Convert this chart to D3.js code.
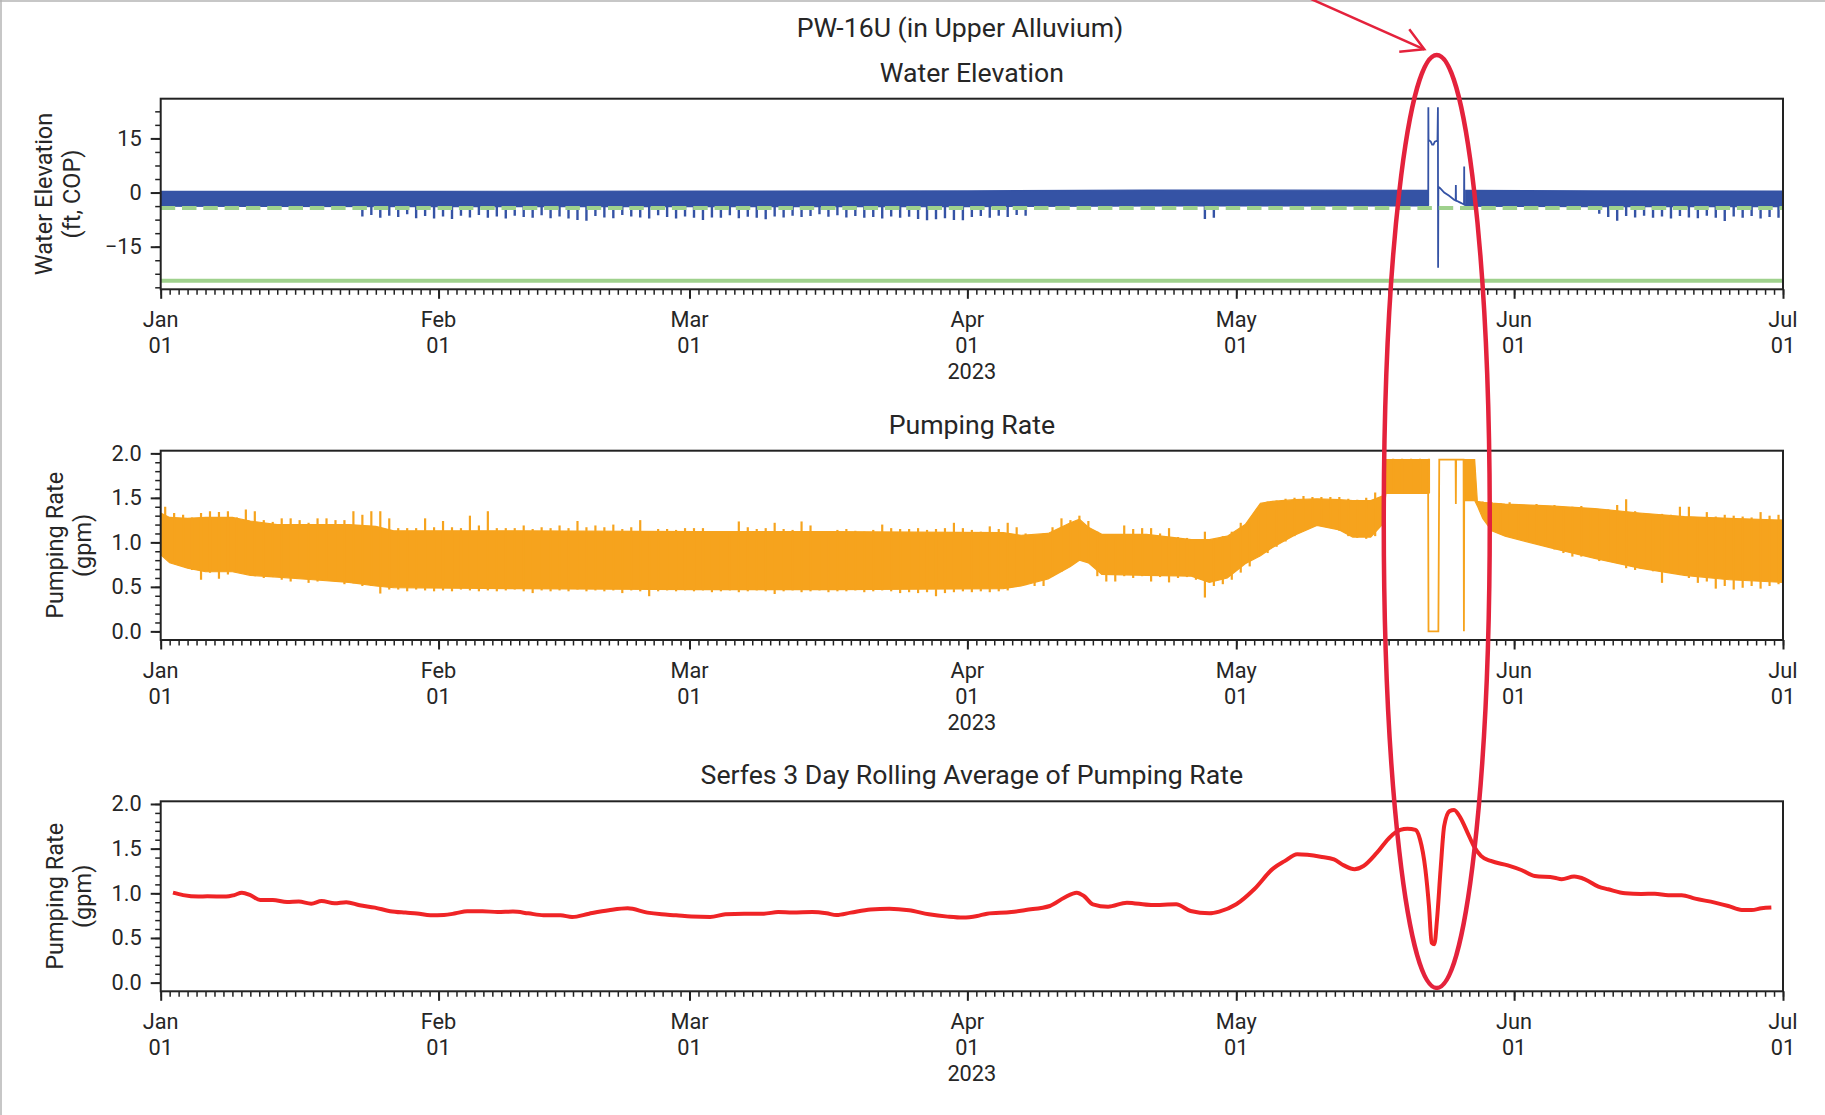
<!DOCTYPE html>
<html><head><meta charset="utf-8">
<script src="https://cdn.jsdelivr.net/npm/d3@7"></script>
<style>
body{margin:0;background:#fff;}
svg{display:block;font-family:Roboto,"Open Sans",sans-serif;}
</style></head><body>
<svg id="chart" width="1825" height="1115"></svg>
<script>
// ---------------- DATA (days counted from 2023-01-01) ----------------
const monthTicks = ["Jan","Feb","Mar","Apr","May","Jun","Jul"];
const elevTicks = [-15, 0, 15];
const rateTicks = [0.0, 0.5, 1.0, 1.5, 2.0];

// Water elevation: dense band core (key days) + daily downward spikes
const elevCoreDays = [0, 30, 60, 90, 110, 141.42, 141.43, 145.55, 145.6, 160, 181];
const elevCoreHi   = [0.35, 0.35, 0.4, 0.45, 0.7, 0.6, NaN, NaN, 0.6, 0.45, 0.4];
const elevCoreLo   = [-3.8, -3.9, -3.9, -3.9, -3.7, -3.7, NaN, NaN, -3.8, -3.9, -3.9];
const elevSpikeLo = [
 null,null,null,null,null,null,null,null,null,null,
 null,null,null,null,null,null,null,null,null,null,
 null,null,-6.6,-6.2,-7.0,-6.4,-6.8,-6.0,-7.1,-6.5,
 -7.2,-6.6,-7.3,-6.4,-6.9,-6.2,-7.0,-6.6,-7.2,-6.4,
 -6.8,-7.0,-6.3,-7.1,-6.6,-7.2,-7.6,-7.8,-6.5,-6.9,
 -7.1,-6.2,-6.6,-6.9,-7.2,-6.3,-6.8,-7.2,-6.6,-7.0,
 -7.6,-6.9,-7.0,-6.3,-7.1,-6.7,-7.0,-7.4,-6.6,-6.9,
 -6.4,-6.8,-6.5,-6.0,-6.7,-6.3,-6.9,-6.5,-7.0,-6.8,
 -7.2,-6.6,-7.0,-6.7,-7.3,-7.7,-7.4,-7.1,-7.6,-7.7,
 -6.8,-6.5,-7.0,-6.4,-6.8,-6.2,-6.4,null,null,null,
 null,null,null,null,null,null,null,null,null,null,
 null,null,null,null,null,null,-7.3,-7.0,null,null,
 null,null,null,null,null,null,null,null,null,null,
 null,null,null,null,null,null,null,null,null,null,
 null,null,null,null,null,null,null,null,null,null,
 null,null,null,null,null,null,null,null,null,null,
 -5.9,-6.8,-7.8,-6.5,-6.9,-6.4,-7.0,-6.6,-7.2,-6.5,
 -6.9,-7.1,-6.4,-7.0,-7.9,-6.6,-7.0,-6.5,-7.2,-6.8,
 -7.0];
// water elevation during the May event (single trace)
const elevEventDays = [141.42,141.43,141.45,141.7,141.85,142.0,142.15,142.45,142.5,142.52,142.55,142.75,143.2,143.75,144.3,144.48,144.5,144.52,145.0,145.25,145.41,145.43,145.45,145.6];
const elevEventVals = [-3.6,23.6,14.6,14.1,13.3,13.3,14.1,14.4,23.6,-20.8,1.6,1.2,0.0,-0.9,-2.0,-2.2,2.1,-2.2,-2.8,-3.1,-3.3,7.2,-3.3,-3.5];
const elevRefDashed = -4.3;
const elevRefSolid = -24.4;

// Pumping rate: dense band core (key days) + daily spike extents
const pumpCoreDays = [0,1,3,5,8,10,13,17,21,24,26,40,60,75,94,96,99,101.5,102.5,103.5,105,110,115,117,119,121,122.7,124,126.5,129,131.5,133,135,136.3,136.7,141.4,141.45,145.4,145.45,146.6,146.9,147.5,148.5,150,155,160,165,170,175,181];
const pumpCoreHi = [1.33,1.28,1.27,1.28,1.28,1.24,1.20,1.20,1.20,1.18,1.13,1.13,1.12,1.12,1.11,1.08,1.10,1.22,1.26,1.17,1.09,1.09,1.03,1.03,1.07,1.20,1.44,1.46,1.48,1.49,1.48,1.47,1.47,1.52,1.93,1.93,NaN,NaN,1.93,1.93,1.46,1.45,1.44,1.43,1.41,1.38,1.33,1.29,1.27,1.25];
const pumpCoreLo = [0.86,0.77,0.71,0.67,0.67,0.63,0.61,0.58,0.55,0.51,0.49,0.48,0.47,0.47,0.48,0.51,0.59,0.73,0.80,0.77,0.64,0.63,0.62,0.55,0.60,0.76,0.85,0.94,1.08,1.19,1.14,1.06,1.06,1.20,1.55,1.55,NaN,NaN,1.47,1.47,1.41,1.27,1.13,1.07,0.94,0.82,0.71,0.63,0.58,0.55];
const pumpSpikeHi = [
 1.40,1.33,1.31,1.28,1.33,1.35,1.34,1.35,1.28,1.37,
 1.35,1.25,1.23,1.27,1.27,1.25,1.22,1.27,1.27,1.25,
 1.25,1.35,1.31,1.35,1.35,1.27,1.16,1.16,1.16,1.27,
 1.17,1.24,1.17,1.16,1.30,1.19,1.35,1.16,1.16,1.16,
 1.19,1.15,1.17,1.16,1.19,1.16,1.24,1.17,1.19,1.17,
 1.20,1.15,1.17,1.25,1.12,1.15,1.15,1.14,1.16,1.16,
 1.16,1.10,1.08,1.10,1.235,1.17,1.15,1.16,1.22,1.15,
 1.14,1.235,1.19,1.08,1.09,1.14,1.15,1.13,1.12,1.14,
 1.20,1.16,1.15,1.15,1.16,1.14,1.15,1.16,1.22,1.16,
 1.14,1.12,1.18,1.15,1.22,1.17,1.10,1.06,1.10,1.17,
 1.27,1.25,1.30,1.24,1.12,1.08,1.06,1.19,1.15,1.16,
 1.16,1.10,1.16,1.06,1.05,1.00,1.12,1.03,1.07,1.12,
 1.22,1.24,1.37,1.46,1.47,1.49,1.50,1.52,1.51,1.51,
 1.51,1.51,1.49,1.48,1.50,1.56,1.53,1.94,1.94,1.94,
 1.94,1.94,null,null,null,null,1.93,1.46,1.45,1.44,
 1.45,1.43,1.42,1.43,1.41,1.42,1.40,1.40,1.41,1.38,
 1.37,1.37,1.42,1.485,1.35,1.33,1.30,1.32,1.31,1.40,
 1.40,1.27,1.34,1.29,1.31,1.30,1.29,1.28,1.34,1.30,
 1.31];
const pumpSpikeLo = [
 0.84,0.77,0.75,0.69,0.58,0.66,0.59,0.64,0.675,0.65,
 0.62,0.60,0.61,0.58,0.56,0.60,0.545,0.56,0.58,0.56,
 0.53,0.54,0.51,0.51,0.425,0.47,0.47,0.45,0.47,0.46,
 0.45,0.46,0.45,0.47,0.46,0.45,0.46,0.45,0.46,0.47,
 0.45,0.43,0.46,0.45,0.46,0.45,0.47,0.45,0.46,0.45,
 0.46,0.43,0.46,0.45,0.395,0.45,0.46,0.45,0.46,0.45,
 0.46,0.44,0.45,0.46,0.44,0.45,0.46,0.45,0.42,0.45,
 0.46,0.44,0.45,0.46,0.44,0.45,0.45,0.46,0.44,0.45,
 0.46,0.45,0.43,0.44,0.43,0.44,0.395,0.43,0.44,0.45,
 0.44,0.45,0.44,0.45,0.46,0.50,0.52,0.51,0.51,0.62,
 0.67,0.74,0.80,0.77,0.62,0.56,0.56,0.62,0.60,0.62,
 0.56,0.61,0.55,0.60,0.61,0.58,0.38,0.51,0.53,0.58,
 0.66,0.73,0.84,0.88,0.95,1.01,1.07,1.15,1.18,1.20,
 1.18,1.13,1.07,1.05,1.04,1.07,1.20,1.55,1.55,1.55,
 1.55,1.55,null,null,null,null,1.48,1.43,1.20,1.10,
 1.08,1.05,1.03,0.99,0.955,0.92,0.88,0.84,0.84,0.86,
 0.79,0.80,0.77,0.71,0.69,0.74,0.675,0.545,0.66,0.64,
 0.60,0.545,0.56,0.48,0.51,0.47,0.49,0.51,0.48,0.51,
 0.53];
// pumping rate during the May event (single trace)
const pumpEventDays = [141.4,141.45,142.55,142.65,144.47,144.5,144.53,145.36,145.4,145.44];
const pumpEventVals = [1.93,0.0,0.0,1.93,1.93,1.43,1.93,1.93,0.0,1.93];

// Serfes 3-day rolling average
const rollDays = [1.37,2.5,4.2,5.2,7.3,8.2,9.06,10,11.1,12.5,14.1,15.4,16.8,17.95,19.4,20.7,22.2,23.9,25.6,27.3,28.6,30.1,31.6,32.9,34.2,35.9,37.6,39.3,41,42.7,44.6,45.9,47.8,50,52.1,54.3,55.9,57.5,59.2,61.3,63,65.1,67.3,68.9,70.5,72.7,74.3,75.4,77,79.2,81.3,83.5,85.7,87.8,89.5,91.1,92.2,94.9,96.5,99.2,100.8,102.2,103,104,105.7,107.8,110.5,113.3,114.9,117,118.1,120,122,124.1,125.4,126.8,129.4,130.9,132,133.2,134.2,135.7,137.2,138.3,139.1,140,140.5,141.1,141.5,141.8,142.1,142.4,142.8,143.2,143.8,144.3,145,145.8,146.5,147.3,148.4,150.3,151.8,153.3,155.5,156.3,157.7,158.9,160.4,161.5,163.4,165.2,166.7,168.2,169.7,171.2,173.4,174.9,176.4,177.5,178.6,179.7];
const rollVals = [1.007,0.98,0.963,0.967,0.963,0.98,1.007,0.98,0.925,0.925,0.903,0.907,0.884,0.914,0.888,0.90,0.866,0.84,0.80,0.784,0.775,0.754,0.757,0.776,0.80,0.80,0.79,0.795,0.776,0.754,0.754,0.735,0.772,0.81,0.832,0.784,0.765,0.754,0.739,0.735,0.765,0.772,0.772,0.79,0.784,0.79,0.776,0.757,0.784,0.82,0.828,0.81,0.765,0.739,0.728,0.746,0.772,0.79,0.813,0.858,0.95,1.007,0.97,0.877,0.85,0.895,0.869,0.877,0.802,0.776,0.795,0.877,1.045,1.276,1.36,1.437,1.41,1.38,1.313,1.27,1.306,1.455,1.634,1.709,1.724,1.709,1.604,1.27,0.858,0.448,0.43,0.709,1.27,1.754,1.92,1.933,1.847,1.68,1.53,1.418,1.362,1.313,1.261,1.194,1.175,1.157,1.187,1.157,1.075,1.045,1.0,0.993,0.996,0.978,0.978,0.94,0.896,0.858,0.813,0.813,0.832,0.84];

// annotation target (event day)
const eventDay = 142.37;

// ---------------- LAYOUT ----------------
const W = 1825, H = 1115;
const L = 160.7, R = 1783;
const panels = [
  {top: 98.7, bottom: 289.3, title: "Water Elevation", ylab: ["Water Elevation", "(ft, COP)"], ylabX: [52, 80]},
  {top: 450.7, bottom: 640, title: "Pumping Rate", ylab: ["Pumping Rate", "(gpm)"], ylabX: [63, 91]},
  {top: 801.3, bottom: 991.3, title: "Serfes 3 Day Rolling Average of Pumping Rate", ylab: ["Pumping Rate", "(gpm)"], ylabX: [63, 91]}
];
const TXT = "#262626";
const C_BLUE = "#3553a5", C_ORANGE = "#f6a31d", C_RED = "#ef2426", C_GREEN = "#9fd18d", C_ANN = "#e4223c";

const START = Date.UTC(2023, 0, 1), END = Date.UTC(2023, 6, 1);
const toDate = d => new Date(START + d * 864e5);

const svg = d3.select("#chart");
svg.append("rect").attr("width", W).attr("height", H).attr("fill", "#fff");
svg.append("line").attr("x1", 0).attr("x2", W).attr("y1", 1).attr("y2", 1).attr("stroke", "#b4b4b4").attr("stroke-width", 1.5);
svg.append("line").attr("x1", 1).attr("x2", 1).attr("y1", 0).attr("y2", H).attr("stroke", "#b4b4b4").attr("stroke-width", 1.5);

// font sizes fitted to the widths of texts in the reference
function fitSize(str, targetW) {
  const t = svg.append("text").attr("font-size", 20).text(str);
  const w = t.node().getComputedTextLength();
  t.remove();
  return 20 * targetW / w;
}
const FS_TITLE = (fitSize("Water Elevation", 182.7) + fitSize("PW-16U (in Upper Alluvium)", 330.6) + fitSize("Serfes 3 Day Rolling Average of Pumping Rate", 541)) / 3;
const FS_YLAB = (fitSize("Water Elevation", 163) + fitSize("Pumping Rate", 146.7)) / 2;
const FS_TICK = Math.min(fitSize("2023", 48.9), 23);

const x = d3.scaleUtc().domain([new Date(START), new Date(END)]).range([L, R]);
const yElev = d3.scaleLinear().domain([-26.8, 26.0]).range([panels[0].bottom, panels[0].top]);
const yPump = d3.scaleLinear().domain([-0.097, 2.03]).range([panels[1].bottom, panels[1].top]);
const yRoll = d3.scaleLinear().domain([-0.097, 2.03]).range([panels[2].bottom, panels[2].top]);
const yScales = [yElev, yPump, yRoll];

svg.append("text").attr("x", 960).attr("y", 37).attr("text-anchor", "middle")
  .attr("font-size", FS_TITLE).attr("fill", TXT).text("PW-16U (in Upper Alluvium)");

const monthDates = d3.utcMonth.range(new Date(START), new Date(END + 1));
const dayDates = d3.utcDay.range(new Date(START), new Date(END + 1));

panels.forEach((p, k) => {
  const y = yScales[k];
  const g = svg.append("g");
  const clipId = "clip" + k;
  svg.append("clipPath").attr("id", clipId).append("rect")
    .attr("x", L).attr("y", p.top).attr("width", R - L).attr("height", p.bottom - p.top);
  p.plot = g.append("g").attr("clip-path", `url(#${clipId})`);

  g.append("text").attr("x", (L + R) / 2).attr("y", p.top - 17).attr("text-anchor", "middle")
    .attr("font-size", FS_TITLE).attr("fill", TXT).text(p.title);

  const xMinor = g.append("g").attr("transform", `translate(0,${p.bottom})`)
    .call(d3.axisBottom(x).tickValues(dayDates).tickSize(5.5).tickFormat(""));
  xMinor.select(".domain").remove();
  xMinor.selectAll("line").attr("stroke", "#222").attr("stroke-width", 1.5);
  const xMajor = g.append("g").attr("transform", `translate(0,${p.bottom})`)
    .call(d3.axisBottom(x).tickValues(monthDates).tickSize(9.5).tickFormat(""));
  xMajor.select(".domain").remove();
  xMajor.selectAll("line").attr("stroke", "#222").attr("stroke-width", 2);
  monthDates.forEach((d, i) => {
    g.append("text").attr("x", x(d)).attr("y", p.bottom + 37.5).attr("text-anchor", "middle")
      .attr("font-size", FS_TICK).attr("fill", TXT).text(monthTicks[i]);
    g.append("text").attr("x", x(d)).attr("y", p.bottom + 64).attr("text-anchor", "middle")
      .attr("font-size", FS_TICK).attr("fill", TXT).text(d3.utcFormat("%d")(d));
  });
  g.append("text").attr("x", (L + R) / 2).attr("y", p.bottom + 90).attr("text-anchor", "middle")
    .attr("font-size", FS_TICK).attr("fill", TXT).text("2023");

  const majorVals = k === 0 ? elevTicks : rateTicks;
  const dom = y.domain();
  const minorStep = k === 0 ? 3.75 : 0.1;
  const minorVals = d3.range(Math.ceil(dom[0] / minorStep - 1e-9), Math.floor(dom[1] / minorStep + 1e-9) + 1).map(i => +(i * minorStep).toFixed(4));
  const yMinor = g.append("g").attr("transform", `translate(${L},0)`)
    .call(d3.axisLeft(y).tickValues(minorVals).tickSize(5.5).tickFormat(""));
  yMinor.select(".domain").remove();
  yMinor.selectAll("line").attr("stroke", "#222").attr("stroke-width", 1.5);
  const fmt = k === 0 ? (v => (v < 0 ? "\u2212" + Math.abs(v) : String(v))) : d3.format(".1f");
  const yMajor = g.append("g").attr("transform", `translate(${L},0)`)
    .call(d3.axisLeft(y).tickValues(majorVals).tickSize(10).tickPadding(9).tickFormat(fmt));
  yMajor.select(".domain").remove();
  yMajor.selectAll("line").attr("stroke", "#222").attr("stroke-width", 2);
  yMajor.selectAll("text").attr("font-size", FS_TICK).attr("fill", TXT).attr("font-family", "Roboto, 'Open Sans', sans-serif");

  const cy = (p.top + p.bottom) / 2;
  p.ylab.forEach((s, i) => {
    g.append("text").attr("transform", `translate(${p.ylabX[i]},${cy}) rotate(-90)`)
      .attr("text-anchor", "middle").attr("font-size", FS_YLAB).attr("fill", TXT).text(s);
  });
});

// ---------- Panel 1: water elevation ----------
{
  const plot = panels[0].plot, y = yElev;
  const core = elevCoreDays.map((d, i) => ({d, hi: elevCoreHi[i], lo: elevCoreLo[i]}));
  plot.append("path").datum(core)
    .attr("d", d3.area().defined(c => !isNaN(c.hi)).x(c => x(toDate(c.d))).y0(c => y(c.lo)).y1(c => y(c.hi)))
    .attr("fill", C_BLUE).attr("stroke", C_BLUE).attr("stroke-width", 1.2);
  const sp = elevSpikeLo.map((v, i) => ({d: i + 0.5, v})).filter(s => s.v != null);
  plot.selectAll("line.es").data(sp).join("line")
    .attr("x1", s => x(toDate(s.d))).attr("x2", s => x(toDate(s.d)))
    .attr("y1", y(-3.6)).attr("y2", s => y(s.v))
    .attr("stroke", C_BLUE).attr("stroke-width", 2.4);
  const ev = elevEventDays.map((d, i) => [d, elevEventVals[i]]);
  plot.append("path").datum(ev)
    .attr("d", d3.line().x(e => x(toDate(e[0]))).y(e => y(e[1])))
    .attr("fill", "none").attr("stroke", C_BLUE).attr("stroke-width", 1.8);
  plot.append("line").attr("x1", L).attr("x2", R).attr("y1", y(elevRefDashed)).attr("y2", y(elevRefDashed))
    .attr("stroke", C_GREEN).attr("stroke-width", 4).attr("stroke-dasharray", "14.5,6.8");
  plot.append("line").attr("x1", L).attr("x2", R).attr("y1", y(elevRefSolid)).attr("y2", y(elevRefSolid))
    .attr("stroke", C_GREEN).attr("stroke-width", 4);
}

// ---------- Panel 2: pumping rate ----------
{
  const plot = panels[1].plot, y = yPump;
  const core = pumpCoreDays.map((d, i) => ({d, hi: pumpCoreHi[i], lo: pumpCoreLo[i]}));
  plot.append("path").datum(core)
    .attr("d", d3.area().defined(c => !isNaN(c.hi)).x(c => x(toDate(c.d))).y0(c => y(c.lo)).y1(c => y(c.hi)))
    .attr("fill", C_ORANGE).attr("stroke", C_ORANGE).attr("stroke-width", 1.2);
  const sp = pumpSpikeHi.map((v, i) => ({d: i + 0.5, hi: v, lo: pumpSpikeLo[i]})).filter(s => s.hi != null);
  plot.selectAll("line.ps").data(sp).join("line")
    .attr("x1", s => x(toDate(s.d))).attr("x2", s => x(toDate(s.d)))
    .attr("y1", s => y(s.lo)).attr("y2", s => y(s.hi))
    .attr("stroke", C_ORANGE).attr("stroke-width", 2.2);
  const ev = pumpEventDays.map((d, i) => [d, pumpEventVals[i]]);
  plot.append("path").datum(ev)
    .attr("d", d3.line().x(e => x(toDate(e[0]))).y(e => y(e[1])))
    .attr("fill", "none").attr("stroke", C_ORANGE).attr("stroke-width", 1.8);
}

// ---------- Panel 3: rolling average ----------
{
  const plot = panels[2].plot, y = yRoll;
  const pts = rollDays.map((d, i) => [d, rollVals[i]]);
  plot.append("path").datum(pts)
    .attr("d", d3.line().curve(d3.curveMonotoneX).x(e => x(toDate(e[0]))).y(e => y(e[1])))
    .attr("fill", "none").attr("stroke", C_RED).attr("stroke-width", 4).attr("stroke-linejoin", "round");
}

panels.forEach(p => {
  svg.append("rect").attr("x", L).attr("y", p.top).attr("width", R - L).attr("height", p.bottom - p.top)
    .attr("fill", "none").attr("stroke", "#222").attr("stroke-width", 2);
});

// ---------- Annotation: ellipse + arrow ----------
{
  const cx = x(toDate(eventDay));
  const top = 55, bot = 988;
  svg.append("ellipse").attr("cx", cx).attr("cy", (top + bot) / 2).attr("rx", 53).attr("ry", (bot - top) / 2)
    .attr("fill", "none").attr("stroke", C_ANN).attr("stroke-width", 4.5);
  const tip = [cx - 12.5, 49.3];
  svg.append("line").attr("x1", tip[0] - 111 * 1.1).attr("y1", tip[1] - 49.3 * 1.1).attr("x2", tip[0]).attr("y2", tip[1])
    .attr("stroke", C_ANN).attr("stroke-width", 2.5);
  svg.append("path").attr("d", `M${tip[0] - 15},${tip[1] - 20}L${tip[0]},${tip[1]}L${tip[0] - 25},${tip[1] + 2.4}`)
    .attr("fill", "none").attr("stroke", C_ANN).attr("stroke-width", 2.5).attr("stroke-linejoin", "miter");
}
</script>
</body></html>
